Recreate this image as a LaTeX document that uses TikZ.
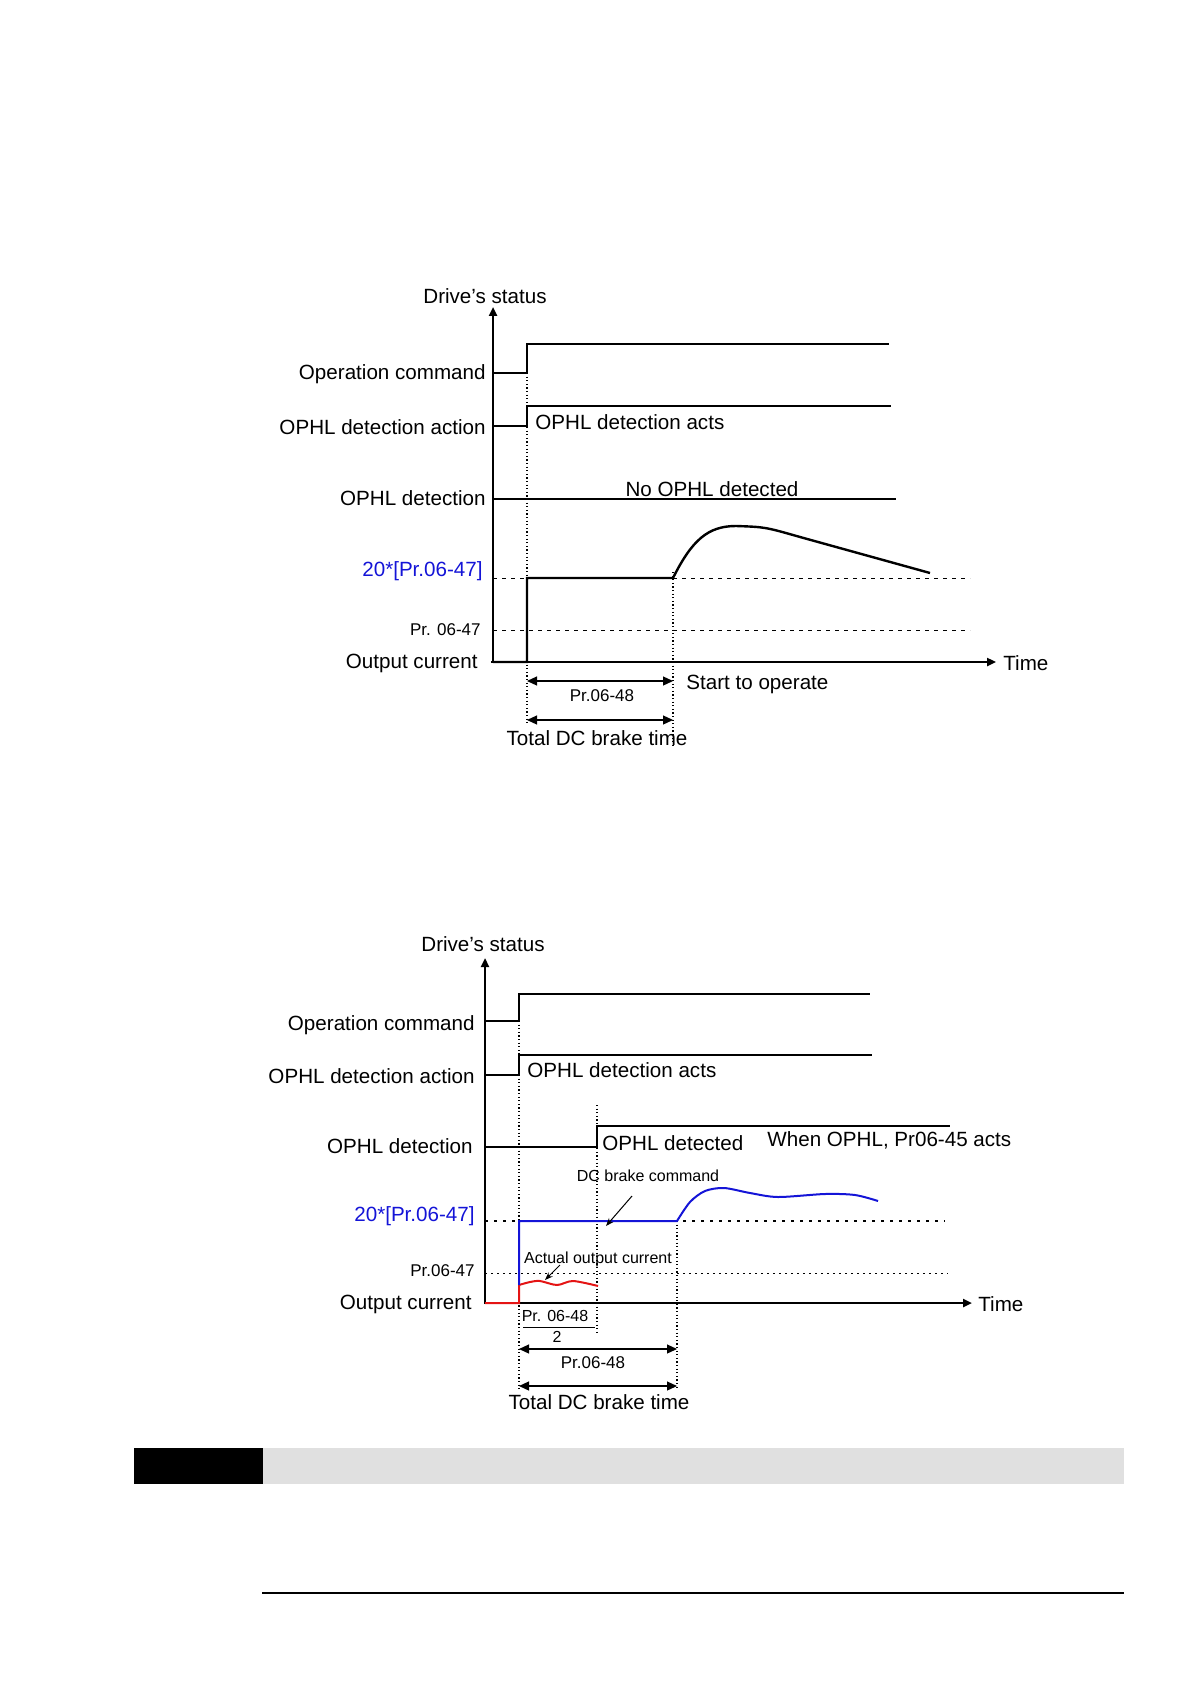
\documentclass[tikz,border=0pt]{standalone}
\usepackage{fontspec}
\setmainfont{Liberation Sans}
\usetikzlibrary{arrows.meta,positioning}
\definecolor{ophlblue}{RGB}{20,20,215}
\definecolor{ophlred}{RGB}{228,20,20}

\begin{document}
\begin{tikzpicture}[x=0.5pt,y=-0.5pt,>=Stealth,
  lbl/.style={inner sep=0pt,font=\fontsize{10.3}{12}\selectfont},
  sml/.style={inner sep=0pt,font=\fontsize{8.5}{10}\selectfont},
  note/.style={inner sep=0pt,font=\fontsize{8}{10}\selectfont},
  sig/.style={line width=1.2pt},
  axisline/.style={line width=1.2pt,-{Triangle[length=4.5pt,width=4pt]}},
  dimline/.style={line width=0.6pt,{Triangle[length=5pt,width=4.5pt]}-{Triangle[length=5pt,width=4.5pt]}},
  ptr/.style={line width=0.5pt,-{Stealth[length=4pt,width=3pt]}},
  guide/.style={line width=0.6pt,dash pattern=on 0.6pt off 1.2pt},
  lvl/.style={line width=0.5pt,dash pattern=on 2pt off 2.5pt}]
  \useasboundingbox (0,0) rectangle (1191,1684);

  % upper chart
  \node[lbl] (ds1) at (485,296) {Drive’s status};
  \draw[axisline] (493,663) -- (493,307);
  \draw[axisline] (491,662) -- (996,662);
  \node[lbl,anchor=west] (tm1) at (1003,663) {Time};
  \node[lbl,anchor=east] (oc1) at (486,374) {Operation command};
  \node[lbl,anchor=east] (ac1) at (486,427) {OPHL detection action};
  \node[lbl,anchor=east] (dt1) at (486,498) {OPHL detection};
  \node[lbl,anchor=east,text=ophlblue] (hi1) at (483,571) {20*[Pr.06-47]};
  \node[sml,anchor=east] (lo1) at (481,630) {Pr. 06-47};
  \node[lbl,anchor=east] (oi1) at (478,663) {Output current};
  \draw[sig] (493,373) -- (527,373) -- (527,344) -- (889,344);
  \draw[sig] (493,426) -- (527,426) -- (527,406) -- (891,406);
  \node[lbl,anchor=west] (acts1) at (535,422) {OPHL detection acts};
  \draw[sig] (493,499) -- (896,499);
  \node[lbl] (no1) at (712,489) {No OPHL detected};
  \draw[lvl] (493,578) -- (970,578);
  \draw[lvl] (493,630) -- (970,630);
  \draw[sig] (493,662) -- (527,662) -- (527,578) -- (673,578)
    .. controls (692,540) and (708,526) .. (736,526)
    .. controls (765,527) .. (800,537) -- (930,573);
  \draw[guide] (527,373) -- (527,725);
  \draw[guide] (673,572) -- (673,745);
  \coordinate (s1) at (527,681);
  \coordinate (e1) at (673,681);
  \draw[dimline] (s1) -- (e1);
  \node[sml] (pr1) at (602,696) {Pr.06-48};
  \node[lbl,anchor=west] (st1) at (686,684) {Start to operate};
  \coordinate (s2) at (527,720);
  \coordinate (e2) at (673,720);
  \draw[dimline] (s2) -- (e2);
  \node[lbl] (tot1) at (597,738) {Total DC brake time};

  % lower chart
  \node[lbl] (ds2) at (483,944) {Drive’s status};
  \draw[axisline] (485,1304) -- (485,958);
  \draw[axisline] (485,1303) -- (972,1303);
  \node[lbl,anchor=west] (tm2) at (978,1304) {Time};
  \node[lbl,anchor=east] (oc2) at (475,1025) {Operation command};
  \node[lbl,anchor=east] (ac2) at (475,1076) {OPHL detection action};
  \node[lbl,anchor=east] (dt2) at (473,1146) {OPHL detection};
  \node[lbl,anchor=east,text=ophlblue] (hi2) at (475,1216) {20*[Pr.06-47]};
  \node[sml,anchor=east] (lo2) at (475,1271) {Pr.06-47};
  \node[lbl,anchor=east] (oi2) at (472,1304) {Output current};
  \draw[sig] (485,1021) -- (519,1021) -- (519,994) -- (870,994);
  \draw[sig] (485,1075) -- (519,1075) -- (519,1055) -- (872,1055);
  \node[lbl,anchor=west] (acts2) at (527,1070) {OPHL detection acts};
  \draw[sig] (485,1147) -- (597,1147) -- (597,1126) -- (950,1126);
  \node[lbl,anchor=west] (det2) at (602,1143) {OPHL detected};
  \node[lbl,anchor=west] (when2) at (767,1140) {When OPHL, Pr06-45 acts};
  \draw[line width=1pt,dash pattern=on 1.5pt off 3pt] (485,1221) -- (945,1221);
  \draw[line width=0.5pt,dash pattern=on 1pt off 2pt] (485,1273) -- (948,1273);
  \draw[guide] (519,1021) -- (519,1390);
  \draw[guide] (597,1105) -- (597,1335);
  \draw[guide] (677,1221) -- (677,1390);
  \draw[line width=1pt,ophlred] (485,1303) -- (519,1303) -- (519,1285)
    -- plot[smooth] coordinates {(519,1285) (530,1282) (540,1281) (557,1285) (573,1281) (598,1286)};
  \draw[line width=1pt,ophlblue] (519,1285) -- (519,1221) -- (677,1221)
    -- plot[smooth] coordinates {(677,1221) (690,1202) (705,1191) (724,1188) (750,1193) (778,1197) (825,1194) (855,1195) (878,1201)};
  \node[note] (dcb) at (648,1176) {DC brake command};
  \coordinate (dcbA) at (632,1196);
  \coordinate (dcbB) at (606,1226);
  \draw[ptr] (dcbA) -- (dcbB);
  \node[note] (aoc) at (598,1259) {Actual output current};
  \coordinate (aocA) at (560,1265);
  \coordinate (aocB) at (545,1280);
  \draw[ptr] (aocA) -- (aocB);
  \node[note] (num2) at (555,1316) {Pr. 06-48};
  \draw[line width=0.5pt] (523,1327) -- (595,1327);
  \node[note] (den2) at (557,1337) {2};
  \coordinate (s3) at (519,1349);
  \coordinate (e3) at (677,1349);
  \draw[dimline] (s3) -- (e3);
  \node[sml] (pr2) at (593,1363) {Pr.06-48};
  \coordinate (s4) at (519,1386);
  \coordinate (e4) at (677,1386);
  \draw[dimline] (s4) -- (e4);
  \node[lbl] (tot2) at (599,1402) {Total DC brake time};

  % page band
  \fill[black] (134,1448) rectangle (263,1484);
  \fill[black!12] (263,1448) rectangle (1124,1484);
  \draw[line width=0.8pt] (262,1593) -- (1124,1593);
\end{tikzpicture}
\end{document}
